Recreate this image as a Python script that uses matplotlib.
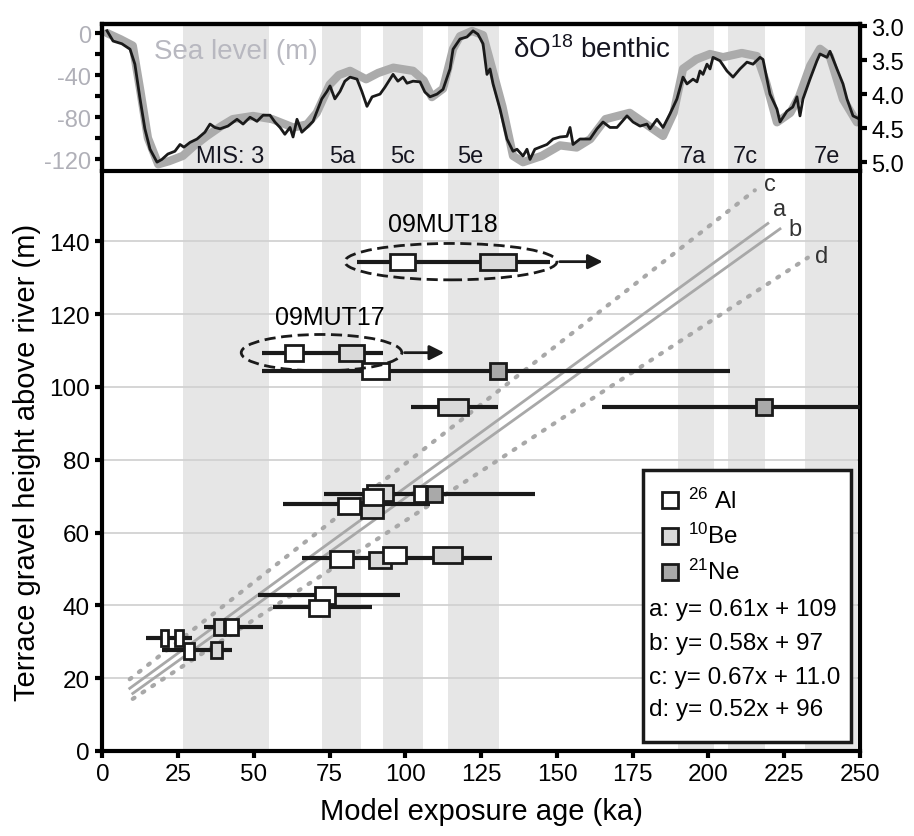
import numpy as np
import matplotlib
matplotlib.use('Agg')
import matplotlib.pyplot as plt
from matplotlib.patches import Rectangle, Ellipse

plt.rcParams['font.family'] = ['Liberation Sans', 'DejaVu Sans']
plt.rcParams['mathtext.default'] = 'regular'
plt.rcParams['axes.unicode_minus'] = False

# marine isotope stage bands (ka)
mis_names = ['MIS: 3', '5a', '5c', '5e', '7a', '7c', '7e']
mis_start = [26.7, 72.3, 92.5, 114.0, 190.0, 206.5, 232.0]
mis_end = [54.8, 85.3, 105.9, 131.0, 201.8, 218.7, 249.0]
mis_label_x = [42, 79, 99, 121.5, 195, 212, 239]

# sea level curve (m)
sl_age = [1.5, 6, 10, 12.5, 15, 18.4, 22, 26.5, 30, 34.5, 39, 43, 49.7, 56, 63, 67.5, 70.7, 75, 78, 81.7,
          87, 91, 96, 102.5, 106, 108.7, 112.4, 115.7, 118, 122, 125.6, 129, 132, 135.5, 138.8, 145, 151,
          156.5, 161, 166, 174, 181, 185, 188.5, 191.6, 196, 200.5, 204.8, 211, 216, 219, 222.6, 227, 230,
          233.6, 236.8, 240, 244.4, 249]
sl = [0, -6, -12, -55, -100, -125, -122, -117, -108, -98, -89, -82, -79, -82, -90, -87, -76, -49, -40, -36,
      -44, -38, -33, -36, -45, -61, -53, -15, -3, 2, -2, -38, -70, -117, -123, -117, -107, -109, -101, -82,
      -76, -90, -98, -76, -34, -25, -20, -23, -19, -22, -47, -85, -76, -60, -31, -15, -22, -63, -85]

# benthic d18O curve
d18_age = [1.5, 3.5, 6.4, 9.1, 10.7, 12.4, 14.0, 15.7, 18.0, 19.6, 21.6, 23.9, 25.6, 26.9, 28.9, 31.2, 33.8,
           35.5, 37.1, 38.8, 41.4, 44.4, 46.4, 48.7, 51.0, 53.0, 55.3, 56.9, 58.6, 60.2, 61.9, 62.9, 64.2,
           65.8, 67.5, 69.5, 71.1, 72.4, 74.1, 75.1, 76.7, 78.4, 80.0, 81.7, 84.0, 85.6, 87.3, 89.0, 91.6,
           93.2, 95.9, 97.5, 99.2, 100.5, 102.5, 104.8, 106.4, 108.1, 110.4, 112.4, 114.7,
           115.7, 118.0, 120.3, 122.3, 123.9, 125.6, 126.9, 127.9, 128.9, 131.2, 133.5, 135.5, 136.8, 138.8,
           140.1, 141.1, 142.7, 144.4, 146.7, 148.7, 151.0, 153.3, 154.3, 155.3, 157.6, 160.9, 163.2, 165.2,
           167.5, 169.8, 173.1, 175.1, 177.4, 179.7, 180.7, 183.0, 185.0, 187.3, 189.6, 191.6, 192.9, 194.9,
           196.2, 197.2, 198.2, 199.5, 200.5, 201.5, 203.8, 206.1, 208.1, 210.4, 212.7, 214.7, 217.0, 218.0,
           220.3, 222.6, 223.6, 225.9, 227.8, 229.2, 230.2, 231.2, 233.5, 235.8, 236.8, 239.1, 240.1, 242.4,
           244.4, 245.7, 247.7, 250]
d18 = [3.07, 3.22, 3.26, 3.34, 3.56, 4.07, 4.51, 4.81, 5.00, 4.96, 4.88, 4.84, 4.74, 4.78, 4.71, 4.66, 4.56,
       4.44, 4.49, 4.51, 4.47, 4.37, 4.44, 4.34, 4.40, 4.31, 4.31, 4.41, 4.49, 4.59, 4.49, 4.63, 4.37, 4.56,
       4.49, 4.40, 4.22, 4.07, 3.96, 3.88, 4.07, 3.96, 3.81, 3.75, 3.78, 3.96, 4.18, 4.04, 4.00, 3.90, 3.71,
       3.81, 3.75, 3.84, 3.81, 3.82, 3.97, 4.04, 4.00, 3.93, 3.63,
       3.34, 3.19, 3.16, 3.07, 3.12, 3.26, 3.71, 3.63, 3.85, 4.22, 4.66, 4.84, 4.81, 4.91, 4.81, 4.96, 4.81,
       4.78, 4.74, 4.66, 4.63, 4.62, 4.49, 4.74, 4.66, 4.66, 4.51, 4.41, 4.49, 4.49, 4.32, 4.41, 4.47, 4.44,
       4.51, 4.37, 4.49, 4.29, 4.07, 3.75, 3.85, 3.78, 3.82, 3.66, 3.71, 3.56, 3.63, 3.46, 3.51, 3.66, 3.75,
       3.63, 3.53, 3.56, 3.46, 3.49, 4.00, 4.22, 4.41, 4.25, 4.19, 4.04, 4.32, 4.07, 3.78, 3.51, 3.41, 3.46,
       3.37, 3.63, 3.85, 4.07, 4.32, 4.37]

# exposure ages: nuclide, age (ka), height (m), internal uncertainty (ka, full width)
nuclide = ['Al', 'Be', 'Al', 'Be', 'Ne', 'Al', 'Be', 'Ne', 'Be', 'Al', 'Be', 'Al', 'Al', 'Ne',
           'Be', 'Al', 'Al', 'Be', 'Al', 'Al', 'Be', 'Al', 'Al', 'Al', 'Al', 'Be']
age = [99.0, 130.5, 63.2, 82.3, 130.5, 90.0, 115.7, 218.2, 89.0, 81.4, 91.6, 89.3, 104.8, 109.7,
       91.6, 78.8, 96.4, 114.0, 73.4, 71.5, 38.3, 42.6, 20.5, 25.2, 28.6, 37.5]
height = [134.4, 134.4, 109.3, 109.3, 104.3, 104.3, 94.6, 94.6, 66.3, 67.4, 70.9, 69.8, 70.7, 70.7,
          52.5, 52.7, 53.7, 53.7, 42.7, 39.3, 34.0, 34.0, 31.0, 31.0, 27.5, 27.6]
int_err = [8.3, 11.9, 5.9, 8.3, 5.3, 8.9, 9.9, 5.3, 7.2, 7.2, 8.8, 6.8, 4.2, 5.0,
           7.5, 7.5, 7.5, 9.6, 6.6, 6.6, 3.3, 4.0, 2.5, 2.5, 3.3, 3.6]

# external uncertainty ranges (ka)
err_h = [134.4, 109.3, 104.3, 94.6, 94.6, 70.6, 67.8, 53.0, 42.9, 39.6, 34.0, 31.0, 27.8]
err_lo = [84.0, 52.6, 52.6, 101.8, 165.0, 73.0, 59.6, 65.7, 51.3, 56.3, 33.5, 14.4, 19.5]
err_hi = [147.7, 92.6, 207.0, 130.5, 250.0, 142.7, 108.0, 128.4, 98.2, 89.0, 52.9, 29.4, 42.6]

# minimum-age samples
samples = ['09MUT18', '09MUT17']
samp_age = [115.0, 72.3]
samp_h = [134.4, 109.4]
samp_span = [70.0, 53.0]
samp_arrow = [(150.0, 166.0), (98.8, 113.7)]
samp_label = [(112.4, 144.8), (75.0, 119.2)]

# regression lines (as drawn), labels and equations
reg_names = ['a', 'b', 'c', 'd']
reg_x = [(9.0, 219.6), (10.0, 223.6), (9.0, 215.3), (10.0, 232.8)]
reg_y = [(17.2, 144.9), (15.8, 143.4), (19.7, 154.0), (14.3, 135.5)]
reg_label = [(223.6, 148.9), (228.5, 143.4), (220.2, 155.8), (237.5, 136.0)]
reg_text = ['a: y= 0.61x + 109', 'b: y= 0.58x + 97', 'c: y= 0.67x + 11.0', 'd: y= 0.52x + 96']

fills = {'Al': 'white', 'Be': '#d9d9d9', 'Ne': '#a9a9a9'}
band_c = '#e6e6e6'

fig = plt.figure(figsize=(9.14, 8.37), dpi=100)
ax_top = fig.add_axes([0.1121, 0.7945, 0.8288, 0.1756])
ax = fig.add_axes([0.1121, 0.1016, 0.8288, 0.6929])

# ---- top panel
for s, e in zip(mis_start, mis_end):
    ax_top.axvspan(s, e, color=band_c, lw=0, zorder=0)
ax_top.plot(sl_age, sl, color='#ababab', lw=6, solid_capstyle='round', zorder=2)
ax_top.set_xlim(0, 250)
ax_top.set_ylim(-131.4, 8.6)
ax_top.set_yticks([0, -40, -80, -120])
ax_top.set_yticks([-20, -60, -100], minor=True)
ax_top.tick_params(axis='y', which='both', direction='out', length=5, width=3, labelsize=17,
                   labelcolor='#b0b0b8', pad=3)
ax_top.tick_params(axis='x', bottom=False, labelbottom=False)
for sp in ['left', 'right', 'top']:
    ax_top.spines[sp].set_linewidth(3)
ax_top.spines['bottom'].set_visible(False)
for name, x in zip(mis_names, mis_label_x):
    ax_top.text(x, -117, name, ha='center', va='center', fontsize=17, color='#151520')
ax_top.text(44, -17, 'Sea level (m)', ha='center', va='center', fontsize=20, color='#b8b8c0')
ax_top.text(161.7, -15, r'δO$^{18}$ benthic', ha='center', va='center', fontsize=20, color='#151520')

ax_r = ax_top.twinx()
ax_r.plot(d18_age, d18, color='#1a1a1a', lw=2)
ax_r.set_ylim(5.13, 2.97)
ax_r.set_yticks([3.0, 3.5, 4.0, 4.5, 5.0])
ax_r.set_yticklabels(['3.0', '3.5', '4.0', '4.5', '5.0'])
ax_r.tick_params(axis='y', direction='out', length=5, width=3, labelsize=17, pad=3)
for sp in ax_r.spines.values():
    sp.set_linewidth(3)
ax_r.spines['bottom'].set_visible(False)

# ---- main panel
for s, e in zip(mis_start, mis_end):
    ax.axvspan(s, e, color=band_c, lw=0, zorder=0)
ax.set_axisbelow(True)
ax.yaxis.grid(True, color='#d2d2d2', lw=1.3)

for k in range(4):
    if reg_names[k] in ('a', 'b'):
        ax.plot(reg_x[k], reg_y[k], color='#a8a8a8', lw=2, zorder=2)
    else:
        ax.plot(reg_x[k], reg_y[k], color='#a8a8a8', lw=3, ls=(0, (0.5, 2.3)),
                dash_capstyle='round', zorder=2)
    ax.text(reg_label[k][0], reg_label[k][1], reg_names[k], ha='center', va='center',
            fontsize=17, color='#333333')

for h, lo, hi in zip(err_h, err_lo, err_hi):
    ax.plot([lo, hi], [h, h], color='#1a1a1a', lw=3, solid_capstyle='butt', zorder=3)

for k in range(2):
    ax.add_patch(Ellipse((samp_age[k], samp_h[k]), samp_span[k], 10.0, fill=False, ec='#1a1a1a',
                         lw=2, ls=(0, (4, 2)), zorder=5))
    ax.annotate('', xy=(samp_arrow[k][1], samp_h[k]), xytext=(samp_arrow[k][0], samp_h[k]),
                arrowprops=dict(arrowstyle='-|>', color='#1a1a1a', lw=2, mutation_scale=22), zorder=5)
    ax.text(samp_label[k][0], samp_label[k][1], samples[k], ha='center', va='center', fontsize=18)

box_h = 4.4
for n, x, y, w in zip(nuclide, age, height, int_err):
    ax.add_patch(Rectangle((x - w / 2, y - box_h / 2), w, box_h, fc=fills[n], ec='#1a1a1a',
                           lw=2, zorder=4))

ax.set_xlim(0, 250)
ax.set_ylim(0, 159.3)
ax.set_xticks(np.arange(0, 251, 25))
ax.set_yticks(np.arange(0, 141, 20))
ax.tick_params(direction='out', length=5, width=3, labelsize=17.5, pad=4)
for sp in ax.spines.values():
    sp.set_linewidth(3)
ax.set_xlabel('Model exposure age (ka)', fontsize=21, labelpad=8)
ax.set_ylabel('Terrace gravel height above river (m)', fontsize=21, labelpad=6)

# legend box
ax.add_patch(Rectangle((0.7135, 0.0155), 0.2745, 0.469, transform=ax.transAxes, fc='white',
                       ec='#1a1a1a', lw=2.5, zorder=6))
leg_lab = [r'$^{26}$ Al', r'$^{10}$Be', r'$^{21}$Ne']
for lab, key, yy in zip(leg_lab, ['Al', 'Be', 'Ne'], [0.433, 0.371, 0.309]):
    ax.plot([0.749], [yy], marker='s', ms=12, mfc=fills[key], mec='#1a1a1a', mew=2,
            transform=ax.transAxes, zorder=7, clip_on=False)
    ax.text(0.773, yy, lab, transform=ax.transAxes, fontsize=17.5, va='center', zorder=7)
for txt, yy in zip(reg_text, [0.245, 0.186, 0.128, 0.072]):
    ax.text(0.722, yy, txt, transform=ax.transAxes, fontsize=17.5, va='center', zorder=7)

fig.savefig('out.png', dpi=100)
